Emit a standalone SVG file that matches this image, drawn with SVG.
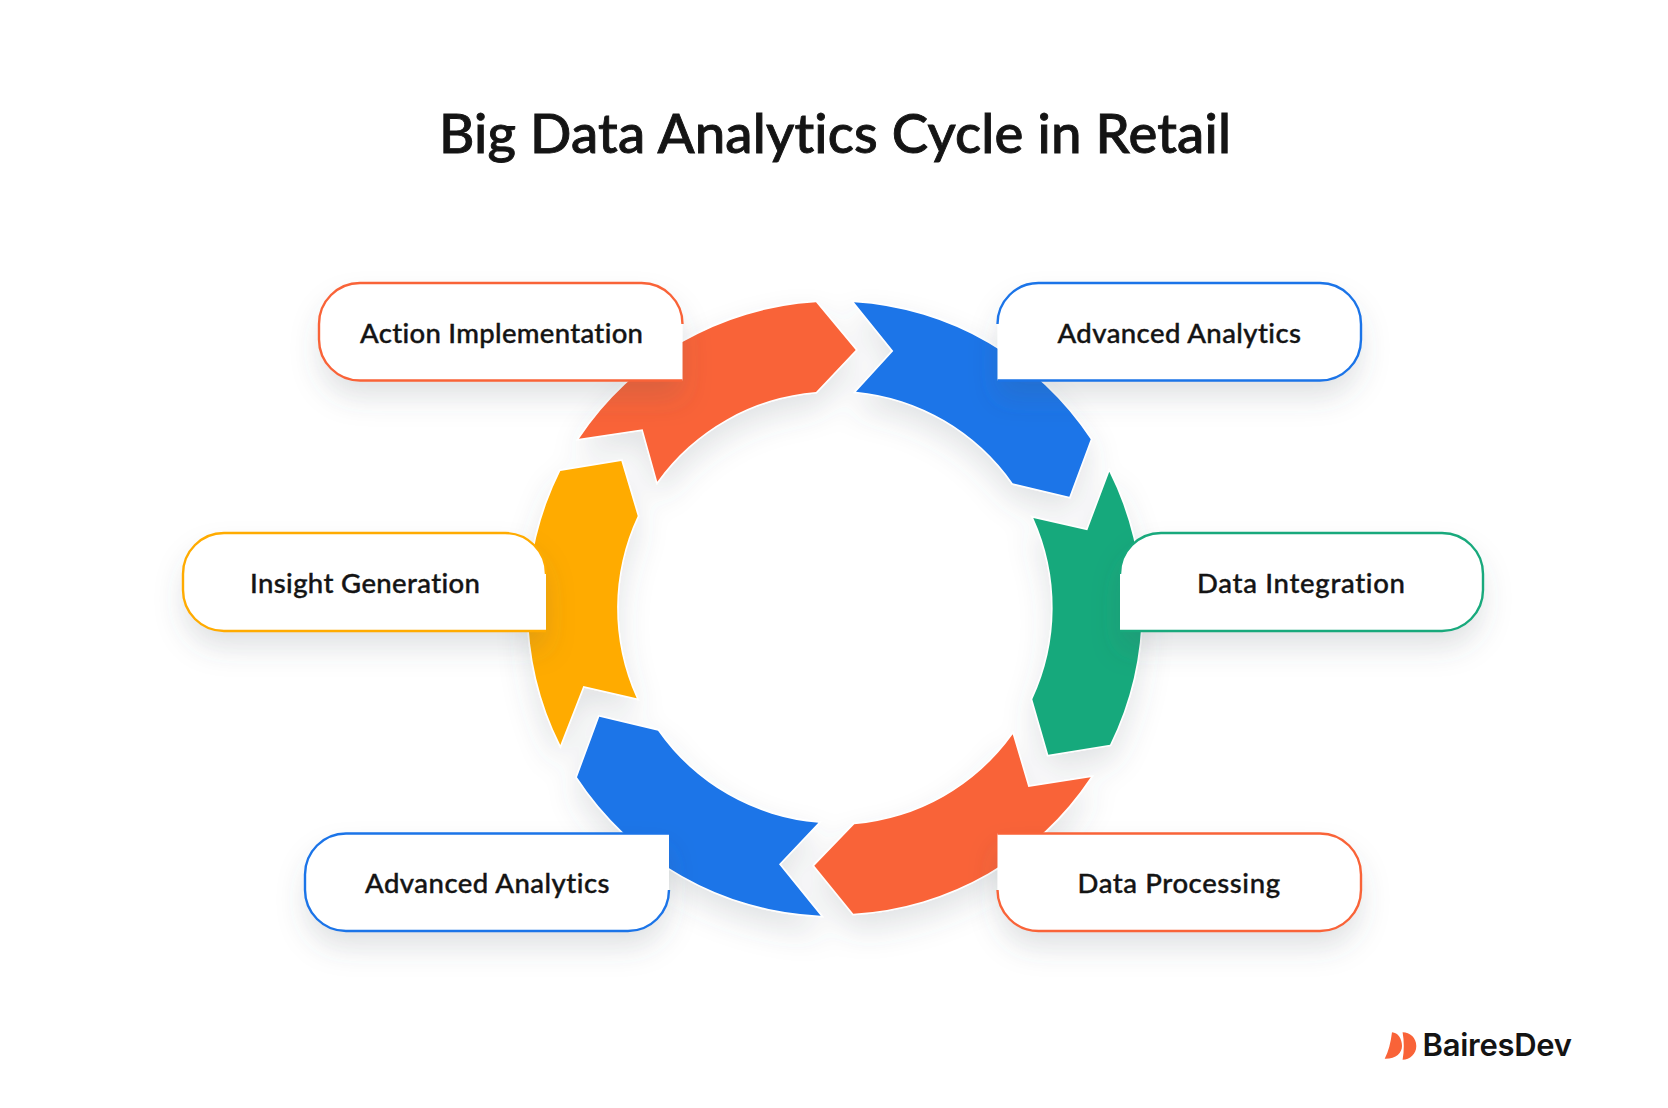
<svg xmlns="http://www.w3.org/2000/svg" width="1668" height="1108" viewBox="0 0 1668 1108">
<defs>
<filter id="arcShadow" x="-20%" y="-20%" width="140%" height="140%"><feDropShadow dx="0" dy="16" stdDeviation="15" flood-color="#4b5563" flood-opacity="0.16"/></filter>
<filter id="cardShadow" x="-20%" y="-40%" width="140%" height="190%"><feDropShadow dx="0" dy="17" stdDeviation="14" flood-color="#4b5563" flood-opacity="0.17"/></filter>
</defs>
<style>
.arrow{stroke:#fff;stroke-width:3;stroke-linejoin:miter;paint-order:stroke}
.fill{fill:#fff;filter:url(#cardShadow)}
.line{fill:none;stroke-width:2.4}
.label{font-family:"Lato","Liberation Sans",sans-serif;font-weight:500;font-size:27.5px;fill:#141414;stroke:#141414;stroke-width:.4px;font-variant-ligatures:none}
.title{font-family:"Lato","Liberation Sans",sans-serif;font-weight:500;font-size:54.5px;fill:#141414;stroke:#141414;stroke-width:.9px;font-variant-ligatures:none}
.brand{font-family:"Inter","Liberation Sans",sans-serif;font-weight:600;font-size:31px;fill:#141414}
.orange{stroke:#f96338}.blue{stroke:#1b74e8}.green{stroke:#18a97c}.yellow{stroke:#ffab00}
</style>
<rect width="1668" height="1108" fill="#fff"/>
<text class="title" x="439" y="152.5" textLength="792" lengthAdjust="spacing">Big Data Analytics Cycle in Retail</text>
<g id="connectors" filter="url(#arcShadow)">
<path class="arrow" fill="#f96338" d="M579,438.7 L642.7,429.3 L657.3,481.7 A217,217 0 0 1 816,392 L855.7,350 L816,302.3 A306.5,306.5 0 0 0 579,438.7Z"/>
<path class="arrow" fill="#1b74e8" d="M854,302.3 L893.3,351 L856,391.7 A217,217 0 0 1 1012.7,483.3 L1069.3,496.7 L1090.7,439.3 A306.5,306.5 0 0 0 854,302.3Z"/>
<path class="arrow" fill="#18a97c" d="M1109.3,471.7 L1087.3,530.3 L1033.3,518 A217,217 0 0 1 1032.3,699.3 L1048.3,754.7 L1110,744.7 A306.5,306.5 0 0 0 1109.3,471.7Z"/>
<path class="arrow" fill="#f96338" d="M1012.7,734.3 L1028.3,787 L1090.7,777.3 A306.5,306.5 0 0 1 853.3,913.7 L814.3,865.7 L854.3,824.3 A217,217 0 0 0 1012.7,734.3Z"/>
<path class="arrow" fill="#1b74e8" d="M599.3,716.7 L658,730.7 A217,217 0 0 0 818.3,822.7 L779,864.3 L820.7,915.7 A306.5,306.5 0 0 1 577,777.3Z"/>
<path class="arrow" fill="#ffab00" d="M560.3,471 L621.3,461 L637.7,516 A217,217 0 0 0 636.7,698.3 L583.3,686 L560.3,745 A306.5,306.5 0 0 1 560.3,471Z"/>
</g>
<g id="node-action-implementation">
<path class="fill" d="M360,283 H641.5 A41,41 0 0 1 682.5,324 V380.5 H360 A41,41 0 0 1 319,339.5 V324 A41,41 0 0 1 360,283Z"/>
<path class="line orange" d="M682.5,380.5 H360 A41,41 0 0 1 319,339.5 V324 A41,41 0 0 1 360,283 H641.5 A41,41 0 0 1 682.5,324"/>
<text class="label" x="360" y="342.5" textLength="283" lengthAdjust="spacing">Action Implementation</text>
</g>
<g id="node-advanced-analytics-top">
<path class="fill" d="M1038.5,283 H1320 A41,41 0 0 1 1361,324 V339.5 A41,41 0 0 1 1320,380.5 H997.5 V324 A41,41 0 0 1 1038.5,283Z"/>
<path class="line blue" d="M997.5,324 A41,41 0 0 1 1038.5,283 H1320 A41,41 0 0 1 1361,324 V339.5 A41,41 0 0 1 1320,380.5 H997.5"/>
<text class="label" x="1057.5" y="342.5" textLength="243.5" lengthAdjust="spacing">Advanced Analytics</text>
</g>
<g id="node-data-integration">
<path class="fill" d="M1161,533 H1442 A41,41 0 0 1 1483,574 V590 A41,41 0 0 1 1442,631 H1120 V574 A41,41 0 0 1 1161,533Z"/>
<path class="line green" d="M1120,574 A41,41 0 0 1 1161,533 H1442 A41,41 0 0 1 1483,574 V590 A41,41 0 0 1 1442,631 H1120"/>
<text class="label" x="1197" y="592.5" textLength="208" lengthAdjust="spacing">Data Integration</text>
</g>
<g id="node-insight-generation">
<path class="fill" d="M224,533 H505 A41,41 0 0 1 546,574 V631 H224 A41,41 0 0 1 183,590 V574 A41,41 0 0 1 224,533Z"/>
<path class="line yellow" d="M546,631 H224 A41,41 0 0 1 183,590 V574 A41,41 0 0 1 224,533 H505 A41,41 0 0 1 546,574"/>
<text class="label" x="250" y="592.5" textLength="230" lengthAdjust="spacing">Insight Generation</text>
</g>
<g id="node-data-processing">
<path class="fill" d="M997.5,833.5 H1320 A41,41 0 0 1 1361,874.5 V890 A41,41 0 0 1 1320,931 H1038.5 A41,41 0 0 1 997.5,890Z"/>
<path class="line orange" d="M997.5,833.5 H1320 A41,41 0 0 1 1361,874.5 V890 A41,41 0 0 1 1320,931 H1038.5 A41,41 0 0 1 997.5,890"/>
<text class="label" x="1077.5" y="892.5" textLength="202.5" lengthAdjust="spacing">Data Processing</text>
</g>
<g id="node-advanced-analytics-bottom">
<path class="fill" d="M346,833.5 H669 V890 A41,41 0 0 1 628,931 H346 A41,41 0 0 1 305,890 V874.5 A41,41 0 0 1 346,833.5Z"/>
<path class="line blue" d="M669,833.5 H346 A41,41 0 0 0 305,874.5 V890 A41,41 0 0 0 346,931 H628 A41,41 0 0 0 669,890"/>
<text class="label" x="365" y="892.5" textLength="244.5" lengthAdjust="spacing">Advanced Analytics</text>
</g>
<g id="logo">
<path fill="#f96338" d="M1384.7,1058.7 Q1390,1049 1392,1032.3 C1398,1032.6 1402,1039 1402,1046 C1402,1053 1396,1059 1384.7,1058.7Z"/>
<path fill="#f96338" d="M1402.6,1032.3 C1410,1032.3 1416.3,1038 1416.3,1046 C1416.3,1054 1410,1059.7 1402.6,1059.7 Q1405,1046 1402.6,1032.3Z"/>
<text class="brand" x="1422.5" y="1056" textLength="149.5" lengthAdjust="spacing">BairesDev</text>
</g>
</svg>
